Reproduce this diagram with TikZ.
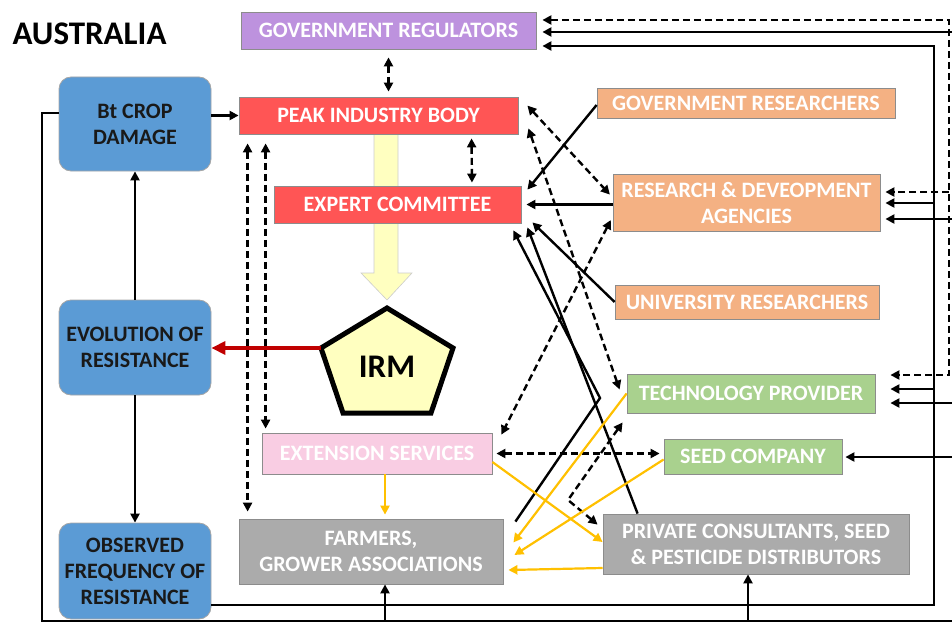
\documentclass[tikz,border=0pt]{standalone}
\usepackage{fontspec}
\setmainfont{Carlito}
\usetikzlibrary{arrows.meta}

\definecolor{regpurple}{HTML}{BD92DE}
\definecolor{peakred}{HTML}{FF5555}
\definecolor{cropblue}{HTML}{5B9BD5}
\definecolor{resorange}{HTML}{F4B183}
\definecolor{techgreen}{HTML}{A9D18E}
\definecolor{farmgray}{HTML}{ABABAB}
\definecolor{extpink}{HTML}{F9CDE3}
\definecolor{linkgold}{HTML}{FFC000}
\definecolor{irmred}{HTML}{C00000}
\definecolor{irmyellow}{HTML}{FFFFC0}

\tikzset{
  box/.style = {draw=black!45, line width=0.8pt, text=white, inner sep=0pt, align=center,
    font=\bfseries\fontsize{22}{26}\selectfont},
  cropbox/.style = {box, rounded corners=12pt, fill=cropblue, text=black!90, draw=black!35},
  plain/.style = {line width=2.4pt},
  link/.style = {plain, -{Triangle[length=9pt,width=9pt]}},
  dline/.style = {link, dash pattern=on 7pt off 4pt},
  dlink/.style = {dline, {Triangle[length=9pt,width=9pt]}-{Triangle[length=9pt,width=9pt]}},
  glink/.style = {link, draw=linkgold, fill=linkgold, line width=2.2pt},
}

\begin{document}
\begin{tikzpicture}[x=1pt,y=-1pt]
\useasboundingbox (0,0) rectangle (952,623);

% big arrow into IRM
\draw[fill=irmyellow, draw=black!20, line width=0.6pt] (374,134) -- (398,134) -- (398,273) -- (412,273)
  -- (387,300) -- (361,273) -- (374,273) -- cycle;

\node[font=\bfseries\fontsize{33}{33}\selectfont, anchor=west] (title) at (9,34) {AUSTRALIA};

\node[box, fill=regpurple, minimum width=295pt, minimum height=37pt] (govreg) at (388.5,30.5) {GOVERNMENT REGULATORS};
\node[box, fill=peakred, minimum width=279pt, minimum height=37pt] (peak) at (378.5,115.5) {PEAK INDUSTRY BODY};
\node[box, fill=peakred, minimum width=247pt, minimum height=37pt] (expert) at (397.5,204.5) {EXPERT COMMITTEE};
\node[cropbox, minimum width=152pt, minimum height=94pt] (btcrop) at (135,124) {Bt CROP\\DAMAGE};
\node[cropbox, minimum width=152pt, minimum height=95pt] (evol) at (135,347.5) {EVOLUTION OF\\RESISTANCE};
\node[cropbox, minimum width=152pt, minimum height=96pt] (obsfreq) at (135,571) {OBSERVED\\FREQUENCY OF\\RESISTANCE};
\node[box, fill=resorange, minimum width=298pt, minimum height=30pt] (govres) at (746,103) {GOVERNMENT RESEARCHERS};
\node[box, fill=resorange, minimum width=267pt, minimum height=57pt] (rnd) at (746.5,202.5) {RESEARCH \& DEVEOPMENT\\AGENCIES};
\node[box, fill=resorange, minimum width=264pt, minimum height=34pt] (univ) at (747,302) {UNIVERSITY RESEARCHERS};
\node[box, fill=techgreen, minimum width=248pt, minimum height=39pt] (tech) at (751,393.5) {TECHNOLOGY PROVIDER};
\node[box, fill=techgreen, minimum width=178pt, minimum height=35pt] (seed) at (753,456.5) {SEED COMPANY};
\node[box, fill=farmgray, minimum width=306pt, minimum height=60pt] (priv) at (756,544) {PRIVATE CONSULTANTS, SEED\\\& PESTICIDE DISTRIBUTORS};
\node[box, fill=farmgray, minimum width=264pt, minimum height=65pt] (farmers) at (371,551.5) {FARMERS,\\GROWER ASSOCIATIONS};
\node[box, fill=extpink, minimum width=230pt, minimum height=41pt] (ext) at (377,453.5) {EXTENSION SERVICES};

% IRM pentagon
\coordinate (irmtop) at (387,308);
\coordinate (irmright) at (453,348);
\coordinate (irmbr) at (431,413);
\coordinate (irmbl) at (343,413);
\coordinate (irmleft) at (321,348);
\draw[fill=irmyellow, line width=5pt, line join=miter] (irmtop) -- (irmright) -- (irmbr) -- (irmbl) -- (irmleft) -- cycle;
\node[font=\bfseries\fontsize{33}{33}\selectfont] (irm) at (387,367) {IRM};

% left column
\draw[link] (btcrop.east |- peak.west) -- (peak.west);
\draw[link] (evol.north) -- (btcrop.south);
\draw[link] (evol.south) -- (obsfreq.north);
\draw[plain, irmred, -{Triangle[length=14pt,width=13pt]}, line width=3.5pt] (irmleft) -- (irmleft -| evol.east);

% peak links
\draw[dlink, shorten <=8pt, shorten >=5pt] (govreg.south) -- (govreg.south |- peak.north);
\draw[dlink, shorten <=4pt, shorten >=3pt] ([xshift=93pt]peak.south) -- ([xshift=74.5pt]expert.north);
\draw[dlink, shorten <=9pt, shorten >=7pt] ([xshift=9pt]peak.south west) -- ([xshift=9pt]farmers.north west);
\draw[dlink, shorten <=9pt, shorten >=4pt] ([xshift=27pt]peak.south west) -- ([xshift=4pt]ext.north west);
\draw[dlink, shorten >=4pt] ([xshift=9pt,yshift=-9pt]peak.north east) -- ([yshift=5pt]rnd.west);
\draw[dlink] ([xshift=10pt,yshift=6pt]peak.south east) -- ([xshift=-7pt,yshift=4pt]tech.west);
\draw[dlink, shorten <=4pt] ([yshift=-14pt]rnd.west) -- ([xshift=9pt,yshift=-2pt]ext.north east);

% expert links
\coordinate (bendA) at (600,398);
\draw[link] ([yshift=-2pt]govres.west) -- ([xshift=6pt,yshift=-4pt]expert.north east);
\draw[link, shorten >=5pt] (rnd.west |- expert.east) -- (expert.east);
\draw[link] (univ.west) -- ([xshift=11pt,yshift=1pt]expert.south east);
\draw[link] ([xshift=35pt]priv.north west) -- ([xshift=6pt,yshift=-4pt]expert.south east);
\draw[link] ([xshift=12pt,yshift=-3pt]farmers.north east) -- (bendA) -- ([xshift=-8pt,yshift=-7pt]expert.south east);

% private sector
\coordinate (bendB) at (568,500);
\draw[dlink] ([xshift=-4pt,yshift=-9pt]tech.south west) -- (bendB) -- ([xshift=-5pt,yshift=-11pt]priv.north west);
\draw[dlink, shorten <=4pt, shorten >=4pt] (ext.east) -- (ext.east -| seed.west);

% advice to farmers
\coordinate (extfoot) at ([xshift=8pt]ext.south);
\draw[glink, shorten >=4pt] (extfoot) -- (extfoot |- farmers.north);
\draw[glink] ([yshift=-8.5pt]ext.east) -- ([yshift=2pt]priv.west);
\draw[glink] (tech.west) -- ([xshift=10pt,yshift=9pt]farmers.east);
\draw[glink] ([yshift=-3pt]seed.west) -- ([xshift=11pt,yshift=-3.5pt]farmers.east);
\draw[glink] ([yshift=-24pt]priv.west) -- ([xshift=5pt,yshift=-18.5pt]farmers.east);

% dashed feedback on the right
\coordinate (dtop) at (949,20);
\coordinate (dbot) at (949,375);
\coordinate (drnd) at (949,192);
\draw[dlink, shorten <=6pt, shorten >=15pt] (dtop -| govreg.east) -- (dtop) -- (dbot) -- (dbot -| tech.east);
\draw[dline, shorten >=5pt] (drnd) -- (drnd -| rnd.east);

% feedback from observed frequency
\coordinate (ibot) at (934,605);
\coordinate (itop) at (934,46);
\coordinate (irnd) at (934,203);
\coordinate (itech) at (934,389);
\draw[link, shorten >=6pt] (obsfreq.east |- ibot) -- (ibot) -- (itop) -- (itop -| govreg.east);
\draw[link, shorten >=5pt] (irnd) -- (irnd -| rnd.east);
\draw[link, shorten >=15pt] (itech) -- (itech -| tech.east);

% feedback from crop damage
\coordinate (obl) at (42,621);
\coordinate (obr) at (962,621);
\coordinate (otr) at (962,32);
\coordinate (ornd) at (962,219);
\coordinate (otech) at (962,403);
\coordinate (oseed) at (962,457);
\coordinate (ofarm) at (385,621);
\coordinate (opriv) at (748,621);
\draw[link, shorten >=6pt] ([yshift=11pt]btcrop.west) -| (obl) -- (obr) -- (otr) -- (otr -| govreg.east);
\draw[link, shorten >=5pt] (ornd) -- (ornd -| rnd.east);
\draw[link, shorten >=15pt] (otech) -- (otech -| tech.east);
\draw[link, shorten >=3pt] (oseed) -- (oseed -| seed.east);
\draw[link] (ofarm) -- (ofarm |- farmers.south);
\draw[link] (opriv) -- (opriv |- priv.south);
\end{tikzpicture}
\end{document}
